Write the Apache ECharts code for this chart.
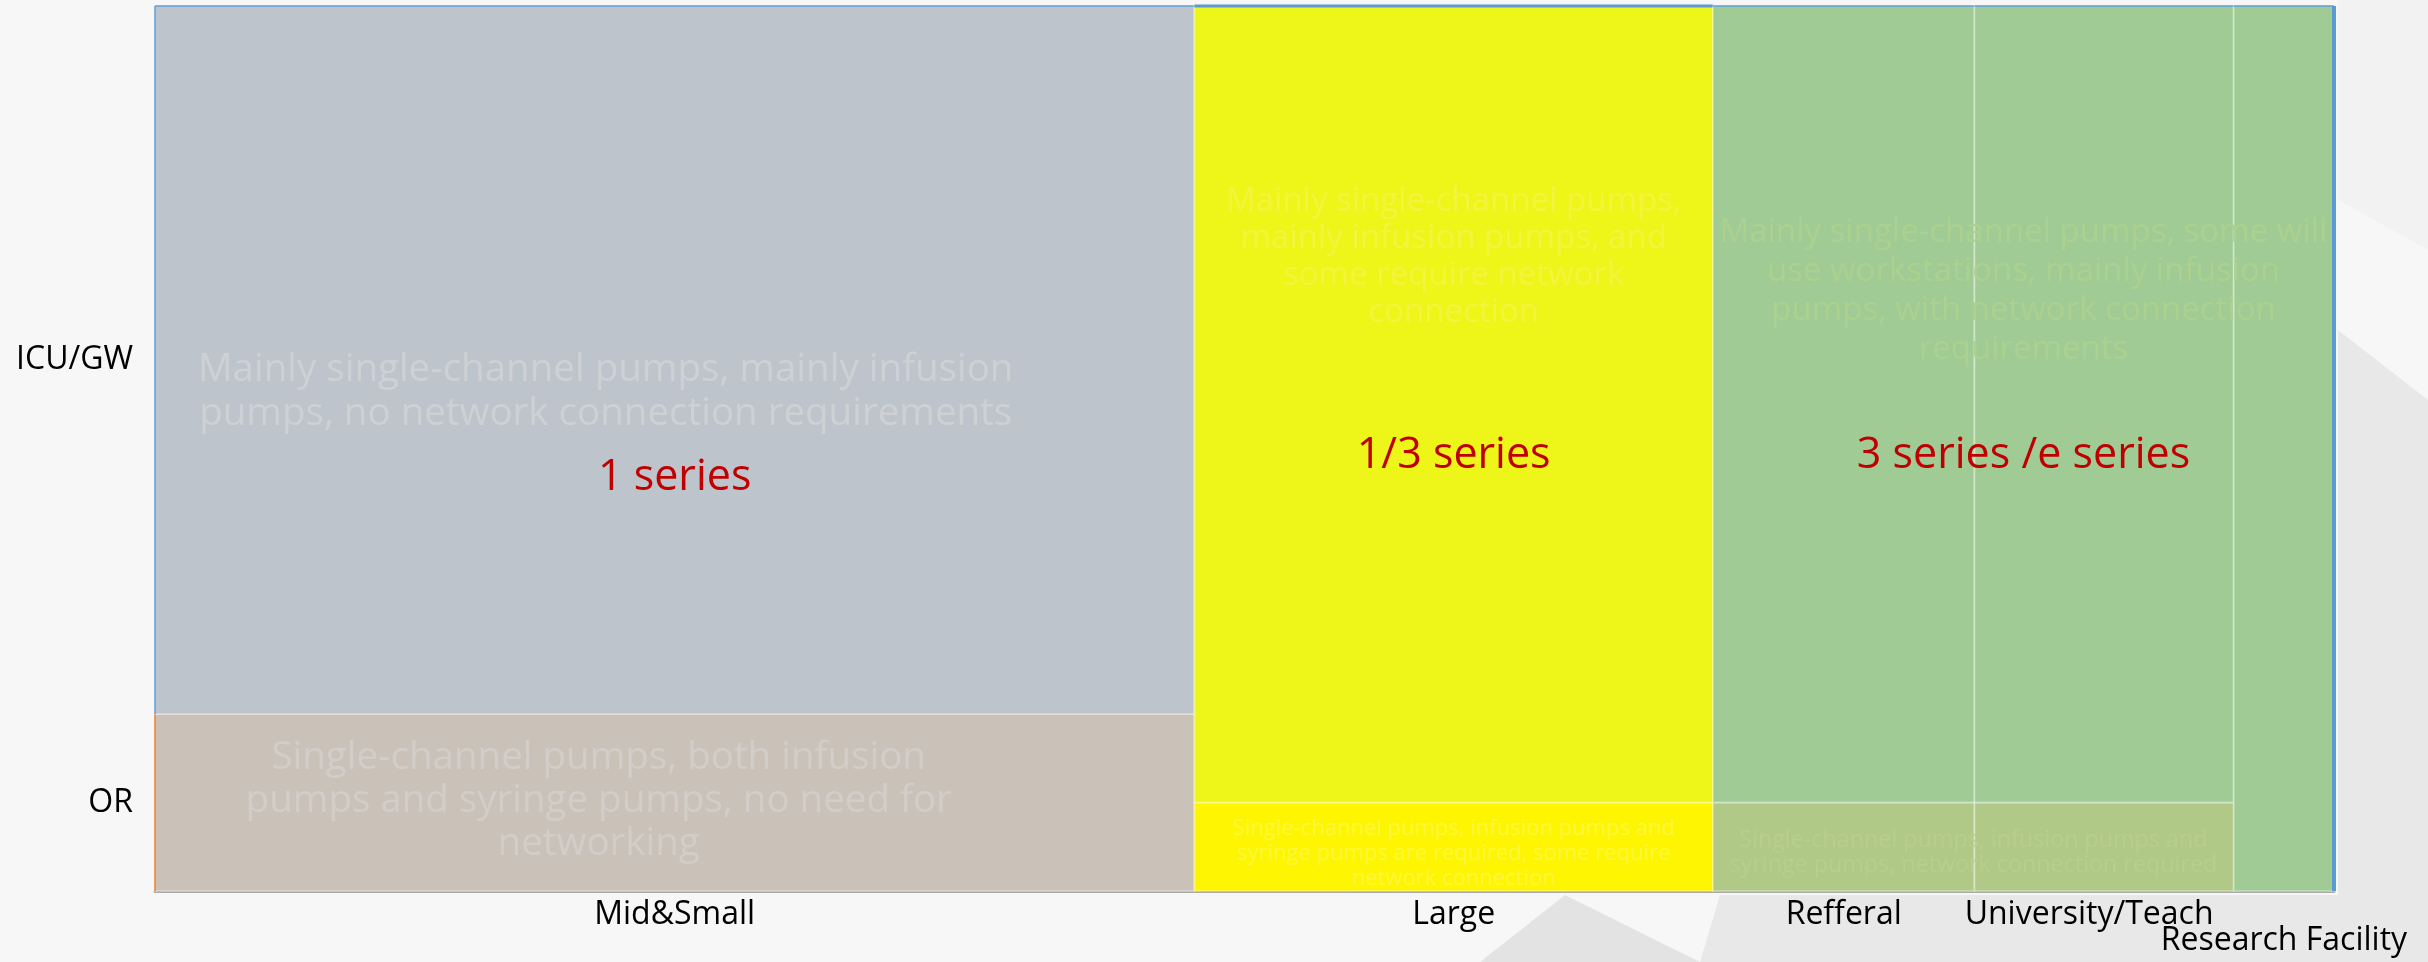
<!DOCTYPE html>
<html>
<head>
<meta charset="utf-8">
<title>Infusion pump series by hospital type</title>
<script src="https://cdn.jsdelivr.net/npm/echarts@6/dist/echarts.min.js"></script>
<style>
html, body { margin: 0; padding: 0; background: #f7f7f7; }
#main { width: 2428px; height: 962px; }
</style>
</head>
<body>
<div id="main"></div>
<script>
// hospital types along x, column width = share (%)
var hospitalTypes = ['Mid&Small', 'Large', 'Refferal', 'University/Teach', 'Research Facility'];
var typeWidth = [47.7, 23.8, 12.0, 11.9, 4.6];
// departments stacked in each column (%)
var departments = ['ICU/GW', 'OR'];
var icuShare = [80, 90, 90, 90, 100];
var orShare = [20, 10, 10, 10, 0];

// description blocks (first column, last column, department)
var noteText = [
    'Mainly single-channel pumps, mainly infusion\npumps, no network connection requirements',
    'Mainly single-channel pumps,\nmainly infusion pumps, and\nsome require network\nconnection',
    'Mainly single-channel pumps, some will\nuse workstations, mainly infusion\npumps, with network connection\nrequirements',
    'Single-channel pumps, both infusion\npumps and syringe pumps, no need for\nnetworking',
    'Single-channel pumps, infusion pumps and\nsyringe pumps are required, some require\nnetwork connection',
    'Single-channel pumps, infusion pumps and\nsyringe pumps, network connection required'
];
var noteFrom = [0, 1, 2, 0, 1, 2];
var noteTo = [0, 1, 4, 0, 1, 3];
var noteDept = ['ICU/GW', 'ICU/GW', 'ICU/GW', 'OR', 'OR', 'OR'];

// product series recommended for each group
var productSeries = ['1 series', '1/3 series', '3 series /e series'];
var productFrom = [0, 1, 2];
var productTo = [0, 1, 4];

var myChart = echarts.init(document.getElementById('main'));

var cumStart = [];
var acc = 0;
for (var i = 0; i < typeWidth.length; i++) {
    cumStart.push(acc);
    acc += typeWidth[i];
}

//cells: [x0, x1, y0, y1, column, row] row 0 = ICU/GW, row 1 = OR
var cellData = [];
for (var c = 0; c < hospitalTypes.length; c++) {
    if (orShare[c] > 0) {
        cellData.push([cumStart[c], cumStart[c] + typeWidth[c], 0, orShare[c], c, 1]);
    }
    cellData.push([cumStart[c], cumStart[c] + typeWidth[c], orShare[c], orShare[c] + icuShare[c], c, 0]);
}

function blockCenter(from, to, dept) {
    var x = (cumStart[from] + cumStart[to] + typeWidth[to]) / 2;
    var y = dept == 'OR' ? orShare[from] / 2 : orShare[from] + icuShare[from] / 2;
    return [x, y];
}

var noteData = [];
for (var n = 0; n < noteText.length; n++) {
    var pc = blockCenter(noteFrom[n], noteTo[n], noteDept[n]);
    noteData.push([pc[0], pc[1], n]);
}
var productData = [];
for (var s = 0; s < productSeries.length; s++) {
    var ps = blockCenter(productFrom[s], productTo[s], 'ICU/GW');
    productData.push([ps[0], ps[1], s]);
}
var typeLabelData = [];
for (var t = 0; t < hospitalTypes.length; t++) {
    typeLabelData.push([cumStart[t] + typeWidth[t] / 2, 0, t]);
}
var yCenters = [orShare[0] / 2, orShare[0] + icuShare[0] / 2];

// styles
var fillColors = [
    ['#bdc4cb', '#cac1b8'],
    ['#eef518', '#fef502'],
    ['#a0cb94', '#b0c986'],
    ['#a0cb94', '#b0c986'],
    ['#a0cb94', '#b0c986']
];
var noteStyle = [
    { size: 38.5, lh: 44, color: '#ced1d4', dx: -69, dy: 32 },
    { size: 33, lh: 37, color: '#f4f43e', dx: 0, dy: -147 },
    { size: 33, lh: 39, color: '#acd08f', dx: 0, dy: -113 },
    { size: 38.5, lh: 43, color: '#d3cdc9', dx: -76, dy: -1 },
    { size: 22, lh: 25, color: '#fdf73c', dx: 0, dy: 7 },
    { size: 23.3, lh: 25, color: '#b8cd8e', dx: 0, dy: 6 }
];
var productDy = [118, 51, 51];
var typeLabelDx = [0, 0, 0, -15, 0];
var typeLabelDy = [24, 24, 24, 24, 50];

function renderCell(params, api) {
    var x0 = api.value(0), x1 = api.value(1), y0 = api.value(2), y1 = api.value(3);
    var col = api.value(4), row = api.value(5);
    var tl = api.coord([x0, y1]);
    var br = api.coord([x1, y0]);
    var children = [{
        type: 'rect',
        shape: { x: tl[0], y: tl[1], width: br[0] - tl[0], height: br[1] - tl[1] },
        style: { fill: fillColors[col][row], stroke: 'rgba(255,255,255,0.3)', lineWidth: 2 }
    }];
    if (col == 0) {   //left edge coloured like excel series
        children.push({
            type: 'line',
            shape: { x1: tl[0], y1: tl[1], x2: tl[0], y2: br[1] },
            style: { stroke: row == 0 ? '#5b9bd5' : '#ed7d31', lineWidth: 1.5 }
        });
    }
    if (row == 0) {
        children.push({
            type: 'line',
            shape: { x1: tl[0], y1: tl[1], x2: br[0], y2: tl[1] },
            style: { stroke: '#5b9bd5', lineWidth: col == 1 ? 3 : 1.5 }
        });
    }
    if (col == hospitalTypes.length - 1) {
        children.push({
            type: 'line',
            shape: { x1: br[0], y1: tl[1], x2: br[0], y2: br[1] },
            style: { stroke: '#5b9bd5', lineWidth: 4 }
        });
    }
    return { type: 'group', children: children };
}

function renderNote(params, api) {
    var k = api.value(2);
    var st = noteStyle[k];
    var p = api.coord([api.value(0), api.value(1)]);
    return {
        type: 'text',
        x: p[0] + st.dx,
        y: p[1] + st.dy,
        style: {
            text: noteText[k],
            fill: st.color,
            font: st.size + 'px "Open Sans"',
            lineHeight: st.lh,
            align: 'center',
            verticalAlign: 'middle'
        }
    };
}

function renderProduct(params, api) {
    var k = api.value(2);
    var p = api.coord([api.value(0), api.value(1)]);
    return {
        type: 'text',
        x: p[0],
        y: p[1] + productDy[k],
        style: {
            text: productSeries[k],
            fill: '#c00000',
            font: '43px "Open Sans"',
            align: 'center',
            verticalAlign: 'middle'
        }
    };
}

// category names under the columns (last one dropped a line like the original)
function renderTypeLabel(params, api) {
    var k = api.value(2);
    var p = api.coord([api.value(0), api.value(1)]);
    return {
        type: 'text',
        x: p[0] + typeLabelDx[k],
        y: p[1] + typeLabelDy[k],
        style: {
            text: hospitalTypes[k],
            fill: '#000',
            font: '32px "Open Sans"',
            align: 'center',
            verticalAlign: 'middle'
        }
    };
}

var option = {
    backgroundColor: '#f7f7f7',
    textStyle: { fontFamily: 'Open Sans' },
    graphic: [
        {   // faint background swoosh
            type: 'polygon', z: -10, silent: true,
            shape: { points: [[2338, 330], [2428, 400], [2428, 962], [1700, 962], [1720, 895], [2338, 895]] },
            style: { fill: 'rgba(0,0,0,0.06)' }
        },
        {
            type: 'polygon', z: -10, silent: true,
            shape: { points: [[1480, 962], [1565, 895], [1700, 962]] },
            style: { fill: 'rgba(0,0,0,0.08)' }
        },
        {
            type: 'polygon', z: -10, silent: true,
            shape: { points: [[2338, 0], [2428, 0], [2428, 250], [2338, 200]] },
            style: { fill: 'rgba(0,0,0,0.02)' }
        }
    ],
    grid: {
        left: 155,
        right: 94,
        top: 6,
        bottom: 71
    },
    xAxis: {
        type: 'value',
        min: 0,
        max: 100,
        splitLine: { show: false },
        axisTick: { show: false },
        axisLine: { show: true, lineStyle: { color: '#aaaaaa', width: 3 } },
        axisLabel: { show: false }
    },
    yAxis: {
        type: 'value',
        min: 0,
        max: 100,
        splitLine: { show: false },
        axisTick: { show: false },
        axisLine: { show: false },
        axisLabel: {
            customValues: yCenters,
            margin: 22,
            color: '#000',
            fontSize: 32,
            formatter: function (v) {
                return Math.abs(v - yCenters[0]) < 0.01 ? departments[1] : departments[0];
            }
        }
    },
    series: [
        {
            type: 'custom',
            name: 'cells',
            renderItem: renderCell,
            data: cellData,
            z: 2
        },
        {
            type: 'custom',
            name: 'notes',
            renderItem: renderNote,
            data: noteData,
            z: 3,
            silent: true
        },
        {
            type: 'custom',
            name: 'products',
            renderItem: renderProduct,
            data: productData,
            z: 4,
            silent: true
        },
        {
            type: 'custom',
            name: 'typeLabels',
            renderItem: renderTypeLabel,
            data: typeLabelData,
            clip: false,
            z: 4,
            silent: true
        }
    ]
};
myChart.setOption(option);
</script>
</body>
</html>
